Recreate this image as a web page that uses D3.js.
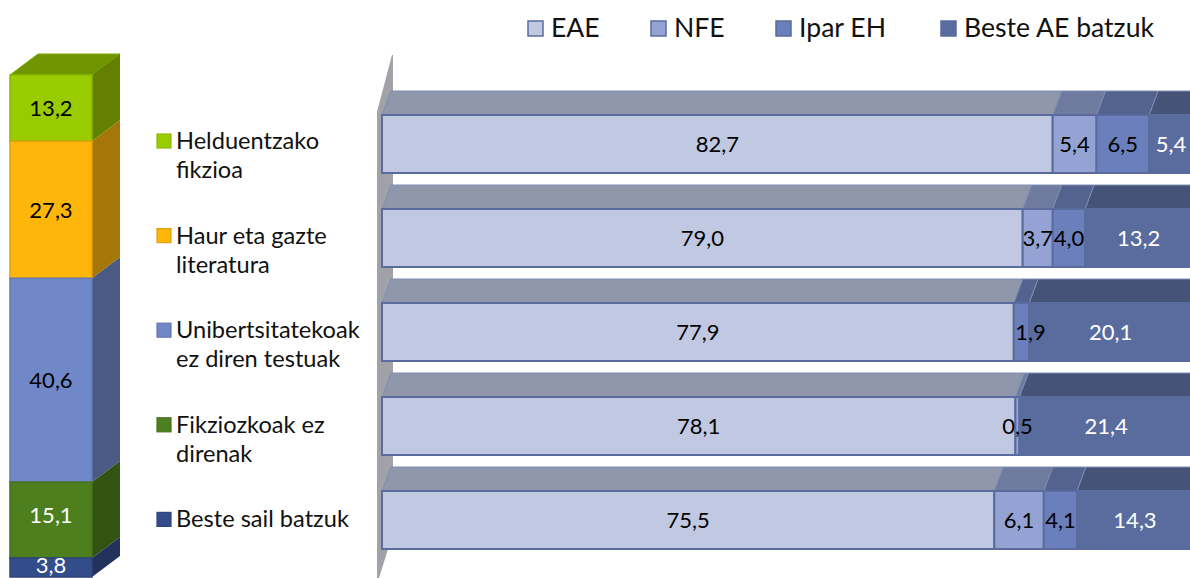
<!DOCTYPE html>
<html>
<head>
<meta charset="utf-8">
<script src="https://cdn.jsdelivr.net/npm/d3@7"></script>
<style>
  html, body { margin: 0; padding: 0; background: #fff; overflow: hidden; }
  text { font-family: Lato, "Open Sans", sans-serif; }
</style>
</head>
<body>
<div id="chart"></div>
<script>
var width = 1190;
var height = 578;

// bar chart data
var rowNames = ["Helduentzako fikzioa", "Haur eta gazte literatura", "Unibertsitatekoak ez diren testuak", "Fikziozkoak ez direnak", "Beste sail batzuk"];
var seriesNames = ["EAE", "NFE", "Ipar EH", "Beste AE batzuk"];
var eae = [82.7, 79.0, 77.9, 78.1, 75.5];
var nfe = [5.4, 3.7, 0, 0.5, 6.1];
var ipar = [6.5, 4.0, 1.9, 0, 4.1];
var beste = [5.4, 13.2, 20.1, 21.4, 14.3];
var seriesValues = [eae, nfe, ipar, beste];

var seriesFill = ["#c0c8e2", "#94a3d4", "#6a7fbb", "#5a6c9e"];
var seriesTop = ["#9097ab", "#6f7a9f", "#53628f", "#465378"];
var seriesLabel = ["#000", "#000", "#000", "#fff"];

// left column data
var stackNames = ["Helduentzako", "Haur eta gazte", "Unibertsitatekoak", "Fikziozkoak ez", "Beste sail batzuk"];
var stackSecond = ["fikzioa", "literatura", "ez diren testuak", "direnak", ""];
var stackValues = [13.2, 27.3, 40.6, 15.1, 3.8];
var stackFill = ["#99cc00", "#ffb60a", "#7088c8", "#4d7f1e", "#324d8a"];
var stackSide = ["#638000", "#a47708", "#4b5a84", "#315412", "#22325c"];
var stackStroke = ["#8ab800", "#e0a010", "#6678b0", "#467219", "#2d4478"];
var stackLabel = ["#000", "#000", "#000", "#fff", "#fff"];

function comma(v) { return v.toFixed(1).replace(".", ","); }

var svg = d3.select("#chart").append("svg")
  .attr("width", width)
  .attr("height", height)
  .style("display", "block");

// ---- left stacked column
var stackY = d3.scaleLinear().domain([0, 100]).range([75, 577]);
var stackLeft = 10, stackW = 82, depthX = 28, depthY = 21;

var running = 0;
var stackData = stackValues.map(function(v, i) {
  var d = {i: i, v: v, y0: stackY(running), y1: stackY(running + v)};
  running += v;
  return d;
});

svg.append("path")
  .attr("d", "M" + stackLeft + "," + stackY(0) + "l" + depthX + "," + (-depthY) + "h" + stackW + "l" + (-depthX) + "," + depthY + "z")
  .attr("fill", "#6f9600")
  .attr("stroke", "#7ea500")
  .attr("stroke-width", 1);

svg.selectAll(".stackSide")
  .data(stackData)
  .enter()
  .append("path")
  .attr("class", "stackSide")
  .attr("d", function(d) {
    var x = stackLeft + stackW;
    return "M" + x + "," + d.y0 + "l" + depthX + "," + (-depthY) + "V" + (d.y1 - depthY) + "l" + (-depthX) + "," + depthY + "z";
  })
  .attr("fill", function(d) { return stackSide[d.i]; });

svg.selectAll(".stackRect")
  .data(stackData)
  .enter()
  .append("rect")
  .attr("class", "stackRect")
  .attr("x", stackLeft)
  .attr("y", function(d) { return d.y0; })
  .attr("width", stackW)
  .attr("height", function(d) { return d.y1 - d.y0; })
  .attr("fill", function(d) { return stackFill[d.i]; })
  .attr("stroke", function(d) { return stackStroke[d.i]; })
  .attr("stroke-width", 1.5);

// the two small bottom labels sit a bit above their centre
svg.selectAll(".stackText")
  .data(stackData)
  .enter()
  .append("text")
  .attr("class", "stackText")
  .attr("x", stackLeft + stackW / 2)
  .attr("y", function(d) {
    var nudge = d.i == 3 ? -5 : (d.i == 4 ? -2 : 0);
    return (d.y0 + d.y1) / 2 + 8 + nudge;
  })
  .attr("text-anchor", "middle")
  .attr("font-size", 22)
  .attr("fill", function(d) { return stackLabel[d.i]; })
  .text(function(d) { return comma(d.v); });

// ---- middle legend
var rowY = d3.scaleBand().domain(rowNames).range([97, 567]).padding(0);

var midLegend = svg.selectAll(".midLegend")
  .data(stackNames)
  .enter()
  .append("g")
  .attr("class", "midLegend")
  .attr("transform", function(d, i) { return "translate(157," + (134 + i * 94.6) + ")"; });

midLegend.append("rect")
  .attr("width", 14)
  .attr("height", 14)
  .attr("fill", function(d, i) { return stackFill[i]; })
  .attr("stroke", function(d, i) { return stackStroke[i]; })
  .attr("stroke-width", 1.2);

midLegend.append("text")
  .attr("x", 19)
  .attr("y", 15)
  .attr("font-size", 23.6)
  .attr("fill", "#111")
  .text(function(d) { return d; });

midLegend.append("text")
  .attr("x", 19)
  .attr("y", 44)
  .attr("font-size", 23.6)
  .attr("fill", "#111")
  .text(function(d, i) { return stackSecond[i]; });

// ---- back wall
var barLeft = 382, skewX = 9, skewTop = 24;
svg.append("path")
  .attr("d", "M392,55L377,112V578H379L393,533V55z")
  .attr("fill", "#a0a2a8");

// ---- top legend
var legendX = [528, 651, 776, 941];
var topLegend = svg.selectAll(".topLegend")
  .data(seriesNames)
  .enter()
  .append("g")
  .attr("class", "topLegend")
  .attr("transform", function(d, i) { return "translate(" + legendX[i] + ",21)"; });

topLegend.append("rect")
  .attr("width", 15)
  .attr("height", 15)
  .attr("fill", function(d, i) { return seriesFill[i]; })
  .attr("stroke", "#5a6c9e")
  .attr("stroke-width", 1.5);

topLegend.append("text")
  .attr("x", 23)
  .attr("y", 16)
  .attr("font-size", 26.6)
  .attr("fill", "#111")
  .text(function(d) { return d; });

// ---- horizontal stacked bars
var x = d3.scaleLinear().domain([0, 100]).range([barLeft, 1193]);
var barH = 58;

var rows = svg.selectAll(".row")
  .data(rowNames)
  .enter()
  .append("g")
  .attr("class", "row")
  .attr("transform", function(d) { return "translate(0," + (rowY(d) + 18) + ")"; });

rows.each(function(name, r) {
  var g = d3.select(this);
  var segs = [];
  var sum = 0;
  seriesValues.forEach(function(s, k) {
    segs.push({k: k, r: r, v: s[r], x0: x(sum), x1: x(sum + s[r])});
    sum += s[r];
  });
  segs = segs.filter(function(d) { return d.v > 0; });

  g.selectAll(".top")
    .data(segs)
    .enter()
    .append("path")
    .attr("class", "top")
    .attr("d", function(d) {
      return "M" + d.x0 + ",0l" + skewX + "," + (-skewTop) + "H" + (d.x1 + skewX) + "L" + d.x1 + ",0z";
    })
    .attr("fill", function(d) { return seriesTop[d.k]; })
    .attr("stroke", "#7f8db5")
    .attr("stroke-width", 1);

  g.selectAll(".front")
    .data(segs)
    .enter()
    .append("rect")
    .attr("class", "front")
    .attr("x", function(d) { return d.x0; })
    .attr("y", 0)
    .attr("width", function(d) { return d.x1 - d.x0; })
    .attr("height", barH)
    .attr("fill", function(d) { return seriesFill[d.k]; })
    .attr("stroke", "#5a6c9e")
    .attr("stroke-width", 2);

  // 1,9 is moved off its thin segment in the original
  g.selectAll(".lab")
    .data(segs)
    .enter()
    .append("text")
    .attr("class", "lab")
    .attr("x", function(d) {
      var nudge = (d.r == 2 && d.k == 2) ? 9 : 0;
      return (d.x0 + d.x1) / 2 + nudge;
    })
    .attr("y", barH / 2 + 8)
    .attr("text-anchor", "middle")
    .attr("font-size", 22)
    .attr("fill", function(d) { return seriesLabel[d.k]; })
    .text(function(d) { return comma(d.v); });
});
</script>
</body>
</html>
